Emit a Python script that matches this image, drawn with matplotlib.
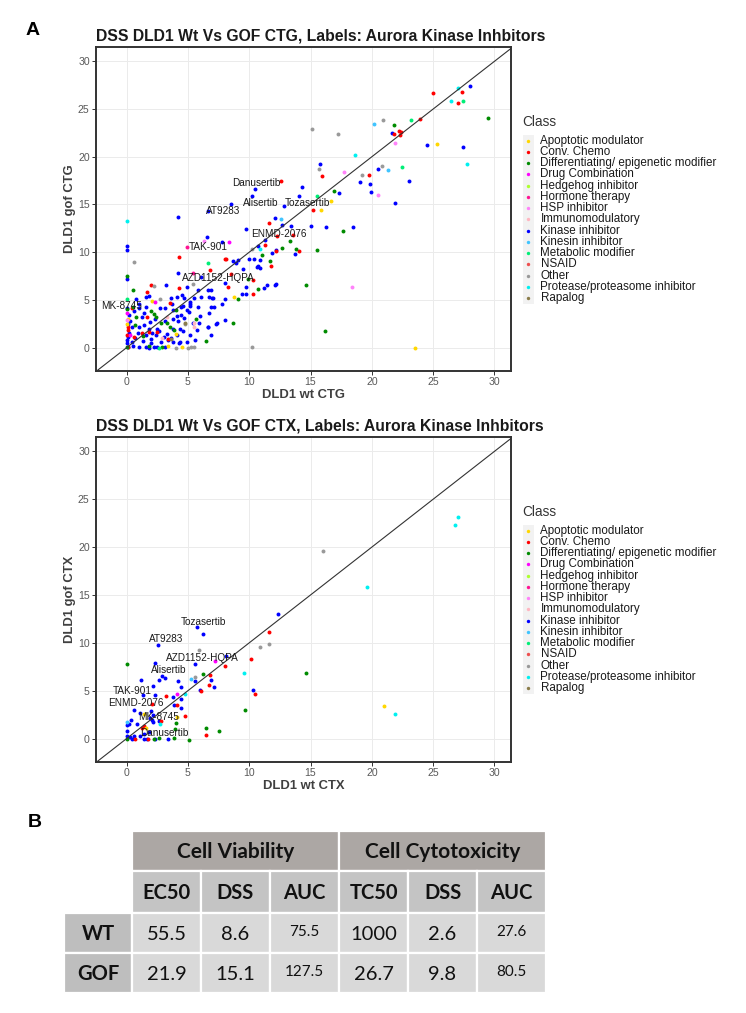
import matplotlib.pyplot as plt
from matplotlib.patches import Rectangle

plt.rcParams['font.family'] = ['Liberation Sans', 'DejaVu Sans']

# ---------------- classes ----------------
class_names = ['Apoptotic modulator', 'Conv. Chemo', 'Differentiating/ epigenetic modifier',
               'Drug Combination', 'Hedgehog inhibitor', 'Hormone therapy', 'HSP inhibitor',
               'Immunomodulatory', 'Kinase inhibitor', 'Kinesin inhibitor', 'Metabolic modifier',
               'NSAID', 'Other', 'Protease/proteasome inhibitor', 'Rapalog']
class_colors = ['#FFD700', '#FF0000', '#008B00', '#FF00FF', '#ADFF2F', '#FF1493', '#FF83FA',
                '#FFB6C1', '#0000FF', '#40C4FF', '#00EE76', '#EE5050', '#999999', '#00F0F0', '#8B7D4B']

# ---------------- CTG (wt, gof) ----------------
ctg_kinase = [(27.98, 27.4), (21.63, 22.5), (24.5, 21.2), (27.43, 21.05), (20.5, 18.7), (19.0, 17.4),
              (19.83, 17.1), (19.9, 16.3), (23.0, 17.5), (21.87, 15.2), (17.33, 16.2), (18.5, 12.6),
              (15.76, 19.2), (10.43, 16.66), (14.34, 16.8), (10.24, 15.9), (14.07, 15.9), (12.87, 14.8),
              (8.53, 15.1), (6.6, 14.35), (4.2, 13.7), (12.08, 13.6), (12.65, 12.9), (13.4, 12.7),
              (15.07, 12.7), (16.3, 12.6), (9.75, 12.4), (6.55, 11.6), (7.8, 11.1), (11.3, 11.25),
              (0, 10.6), (0, 10.25), (10.7, 10.6), (13.7, 9.78), (11.87, 9.95), (12.2, 10.2),
              (10.0, 9.3), (10.35, 9.33), (10.9, 9.2), (8.69, 9.05), (9.1, 9.2), (8.9, 8.9),
              (10.7, 8.55), (10.9, 8.35), (10.6, 8.45), (9.45, 8.25), (4.2, 7.8), (6.06, 7.4),
              (8.04, 6.8), (9.72, 6.4), (9.72, 5.6), (9.4, 5.65), (11.24, 6.2), (11.43, 6.55),
              (12.1, 6.6), (12.2, 6.7), (8.0, 5.1), (7.74, 4.6), (8.0, 2.9), (0, 7.2), (3.2, 6.6),
              (1.8, 5.4), (4.95, 6.3), (5.8, 6.0), (6.1, 5.3), (7.0, 5.2), (6.6, 6.0), (6.9, 6.0),
              (6.9, 4.3), (6.7, 3.6), (7.3, 2.5), (6.9, 1.3), (6.6, 2.2), (3.6, 5.2), (4.1, 5.3),
              (4.5, 5.5), (4.7, 5.2), (5.2, 4.8), (5.5, 5.2), (4.4, 4.3), (4.9, 3.9), (5.2, 4.4),
              (5.85, 4.3), (6.0, 3.3), (7.1, 4.3), (7.05, 5.2), (6.7, 5.3), (4.7, 3.1), (4.1, 3.35),
              (5.4, 2.55), (5.9, 2.55), (5.7, 1.85), (4.6, 1.7), (5.2, 1.3), (4.1, 1.3), (4.35, 0.6),
              (4.9, 0.6), (5.55, 0.8), (7.4, 2.55), (6.65, 2.2), (1.0, 4.6), (1.03, 4.2), (1.6, 4.3),
              (2.7, 4.1), (3.1, 4.15), (3.7, 4.6), (3.8, 3.9), (4.6, 4.4), (5.2, 4.6), (4.4, 3.4),
              (5.05, 3.7), (0.2, 3.4), (1.25, 3.25), (3.1, 2.8), (3.75, 3.0), (4.15, 2.8), (0.15, 2.5),
              (0.45, 2.15), (1.0, 2.2), (1.45, 2.4), (1.85, 2.0), (2.5, 2.0), (2.65, 1.7), (3.75, 1.9),
              (4.35, 2.0), (0.2, 1.5), (0.1, 1.1), (0.9, 1.5), (1.6, 1.3), (2.0, 0.9), (2.4, 1.3),
              (3.05, 1.15), (3.3, 1.4), (0, 0.8), (0, 0.45), (0.15, 0.1), (0.55, 0.15), (1.0, 0.1),
              (1.6, 0.05), (2.2, 0.05), (2.5, 0.1), (3.1, 0.1), (2.0, 0.45), (3.8, 0.6), (4.3, 0.45),
              (2.8, 0.6), (3.35, 0.8), (0.76, 5.05), (1.6, 5.3), (1.8, 0.0), (0.4, 0.6), (1.3, 0.7),
              (0.7, 1.0), (2.3, 3.0), (1.9, 2.7), (0.6, 3.8), (1.4, 3.6), (0.3, 2.8), (2.1, 1.5),
              (3.6, 1.0), (0, 4.15)]
ctg_chemo = [(27.35, 26.8), (25.02, 26.7), (27.0, 25.6), (23.96, 24.0), (21.77, 22.35), (22.2, 22.7),
             (22.36, 22.6), (22.3, 22.3), (19.8, 18.1), (15.95, 18.0), (12.55, 17.5), (15.2, 14.4),
             (11.6, 13.1), (12.28, 11.7), (13.6, 11.75), (11.3, 10.75), (12.16, 10.17), (14.07, 10.1),
             (8.0, 9.25), (8.1, 9.25), (11.8, 8.55), (8.53, 7.72), (10.27, 7.12), (8.3, 6.3),
             (10.3, 5.6), (4.3, 9.5), (6.8, 8.1), (2.0, 6.55), (1.7, 5.8), (4.3, 6.2), (1.65, 3.25),
             (0.1, 2.15), (1.25, 1.5), (0.1, 1.85), (0.57, 1.15), (0.1, 0.1), (0.4, 4.1), (3.5, 4.7),
             (1.8, 1.6), (2.45, 1.6), (3.4, 0.9), (0, 1.3)]
ctg_diff = [(29.5, 24.1), (21.8, 23.3), (16.92, 16.4), (17.65, 12.2), (13.3, 11.2), (12.7, 10.4),
            (13.8, 10.3), (15.5, 10.25), (11.0, 9.7), (11.7, 9.05), (9.88, 7.2), (10.7, 6.1),
            (14.6, 6.6), (9.08, 5.06), (8.7, 2.6), (16.2, 1.7), (6.5, 0.7), (0, 7.5), (0.5, 6.0),
            (0.55, 4.3), (2.0, 3.8), (4.0, 3.95), (0.8, 3.2), (2.25, 3.5), (2.4, 3.2), (3.3, 2.55),
            (5.65, 3.0), (0.7, 2.4), (2.8, 2.6), (3.9, 1.8), (0, 0.1), (1.8, 0.2), (2.9, 0.05),
            (0, 4.0), (1.3, 1.2), (3.5, 2.2)]
ctg_apopt = [(25.3, 21.3), (16.65, 15.4), (15.85, 14.4), (8.75, 5.3), (23.5, 0), (0.1, 3.0),
             (4.0, 1.4), (3.4, 0.2), (4.5, 0.05), (2.1, 4.9), (0, 2.5)]
ctg_combo = [(8.36, 11.1), (2.3, 4.8), (0.3, 1.3), (0, 3.6)]
ctg_hormone = [(4.9, 10.5), (5.4, 7.85)]
ctg_hsp = [(17.7, 18.4), (21.85, 21.4), (20.5, 16.0), (18.36, 6.3), (6.27, 11.2), (0, 2.9)]
ctg_immuno = [(3.3, 3.25), (5.5, 2.6), (5.5, 2.2), (2.9, 1.0)]
ctg_kinesin = [(20.2, 23.4), (21.3, 18.65), (12.6, 13.45)]
ctg_metab = [(27.4, 25.8), (23.22, 23.85), (22.43, 18.9), (15.5, 15.9), (6.6, 8.9), (0, 5.1), (2.6, 0)]
ctg_other = [(20.94, 23.85), (17.25, 22.4), (15.13, 22.9), (20.8, 19.0), (19.2, 18.1), (15.73, 18.7),
             (10.24, 10.3), (0.57, 9.0), (2.2, 6.45), (2.7, 5.05), (5.4, 6.7), (4.8, 2.5), (4.0, 0),
             (5.0, 0), (5.25, 0.05), (5.5, 0.05), (10.24, 0.1)]
ctg_protease = [(27.06, 27.2), (26.46, 25.8), (27.75, 19.25), (18.63, 20.2), (0, 13.3), (10.9, 10.3)]
ctg_rapalog = [(4.75, 2.55), (3.6, 0.9)]

# ---------------- CTX (wt, gof) ----------------
ctx_kinase = [(12.37, 12.96), (8.14, 8.64), (10.3, 5.12), (5.7, 11.67), (6.26, 10.94), (2.54, 9.76),
              (5.55, 7.8), (2.35, 7.9), (2.87, 6.55), (3.1, 6.3), (2.65, 6.13), (5.6, 6.03), (1.15, 6.13),
              (4.22, 6.03), (6.86, 6.1), (2.19, 5.54), (4.44, 5.4), (7.13, 5.4), (1.35, 4.53), (2.35, 4.6),
              (5.99, 5.05), (3.76, 4.32), (4.44, 4.1), (3.87, 3.55), (4.44, 3.14), (0.56, 2.96), (2.0, 2.9),
              (1.1, 2.7), (2.13, 2.44), (0.37, 1.9), (0.04, 1.4), (0.83, 1.57), (2.05, 1.9), (2.19, 1.74),
              (0, 0.77), (0, 0.28), (0.26, 0.17), (0.42, 0), (1.1, 0.25), (1.43, 0), (1.67, 0), (1.83, 0.7),
              (2.33, 0), (3.36, 0), (1.43, 0.52), (0.6, 0.3), (1.9, 2.1), (2.6, 1.8), (0.2, 1.5)]
ctx_chemo = [(11.65, 11.15), (10.12, 8.33), (8.05, 7.56), (6.8, 6.69), (6.72, 5.57), (10.45, 4.63),
             (3.2, 4.43), (2.05, 3.66), (4.1, 3.5), (4.72, 2.4), (2.84, 1.85), (1.43, 1.3), (1.24, 1.1),
             (6.45, 0.42), (0.7, 0), (1.73, 0), (6.05, 5.0)]
ctx_diff = [(0, 7.77), (6.24, 6.72), (14.6, 6.83), (9.63, 2.93), (4.0, 1.67), (6.45, 1.15), (7.5, 0.8),
            (3.95, 1.0), (0, 0), (2.24, 0), (2.6, 0.1), (3.87, 0.1), (5.1, -0.1)]
ctx_apopt = [(20.96, 3.38), (1.43, 2.54), (1.54, 1.05), (4.1, 2.2)]
ctx_combo = [(7.2, 8.1), (4.14, 4.63)]
ctx_kinesin = [(5.26, 6.27), (0, 1.74)]
ctx_other = [(16.0, 19.6), (10.9, 9.6), (11.65, 9.86), (5.9, 9.3), (5.6, 6.4)]
ctx_protease = [(19.57, 15.85), (27.0, 23.16), (26.8, 22.3), (21.86, 2.6), (9.58, 6.83), (4.8, 4.63),
                (2.74, 1.5)]

# label text positions (wt, gof)
aurora_names = ['Danusertib', 'Alisertib', 'Tozasertib', 'AT9283', 'ENMD-2076', 'TAK-901',
                'AZD1152-HQPA', 'MK-8745']
ctg_label_pos = [(10.6, 17.2), (10.9, 15.2), (14.75, 15.2), (7.9, 14.3), (12.4, 11.9), (6.65, 10.5),
                 (7.47, 7.26), (-0.4, 4.4)]
ctx_label_pos = [(3.05, 0.56), (3.4, 7.18), (6.3, 12.16), (3.2, 10.4), (0.72, 3.73), (0.47, 5.0),
                 (6.18, 8.4), (2.6, 2.2)]

# ---------------- table ----------------
tbl_groups = ['Cell Viability', 'Cell Cytotoxicity']
tbl_cols = ['EC50', 'DSS', 'AUC', 'TC50', 'DSS', 'AUC']
tbl_rows = ['WT', 'GOF']
tbl_vals = [['55.5', '8.6', '75.5', '1000', '2.6', '27.6'],
            ['21.9', '15.1', '127.5', '26.7', '9.8', '80.5']]

ctg_groups = {'Kinase inhibitor': ctg_kinase, 'Conv. Chemo': ctg_chemo,
              'Differentiating/ epigenetic modifier': ctg_diff, 'Apoptotic modulator': ctg_apopt,
              'Drug Combination': ctg_combo, 'Hormone therapy': ctg_hormone, 'HSP inhibitor': ctg_hsp,
              'Immunomodulatory': ctg_immuno, 'Kinesin inhibitor': ctg_kinesin,
              'Metabolic modifier': ctg_metab, 'Other': ctg_other,
              'Protease/proteasome inhibitor': ctg_protease, 'Rapalog': ctg_rapalog}
ctx_groups = {'Kinase inhibitor': ctx_kinase, 'Conv. Chemo': ctx_chemo,
              'Differentiating/ epigenetic modifier': ctx_diff, 'Apoptotic modulator': ctx_apopt,
              'Drug Combination': ctx_combo, 'Kinesin inhibitor': ctx_kinesin, 'Other': ctx_other,
              'Protease/proteasome inhibitor': ctx_protease}
color_of = dict(zip(class_names, class_colors))


def draw_panel(ax, groups, title, xlabel, ylabel, label_pos):
    ax.set_xlim(-2.5, 31.35)
    ax.set_ylim(-2.45, 31.5)
    ticks = [0, 5, 10, 15, 20, 25, 30]
    ax.set_xticks(ticks)
    ax.set_yticks(ticks)
    ax.grid(True, color='#EBEBEB', lw=0.7)
    ax.set_axisbelow(True)
    for sp in ax.spines.values():
        sp.set_linewidth(1.4)
        sp.set_color('#333333')
    ax.tick_params(length=3, width=0.7, color='#333333', labelsize=7.6,
                   labelcolor='#595959', pad=1.5)
    for name, pts in groups.items():
        xs = [p[0] for p in pts]
        ys = [p[1] for p in pts]
        ax.scatter(xs, ys, s=8, color=color_of[name], lw=0, zorder=2)
    ax.axline((0, 0), slope=1, color='#333333', lw=0.8, zorder=3)
    for name, (tx, ty) in zip(aurora_names, label_pos):
        ax.text(tx, ty, name, ha='center', va='center', fontsize=7.2, color='#1A1A1A', zorder=4)
    ax.set_title(title, loc='left', fontsize=11.3, fontweight='bold', color='#1A1A1A', pad=5)
    ax.set_xlabel(xlabel, fontsize=9.4, fontweight='bold', color='#404040', labelpad=1.5)
    ax.set_ylabel(ylabel, fontsize=9.4, fontweight='bold', color='#404040', labelpad=1.5)


fig = plt.figure(figsize=(7.46, 10.13), dpi=100)
ax1 = fig.add_axes([96 / 746, 1 - 371 / 1013, 415 / 746, 324 / 1013])
ax2 = fig.add_axes([96 / 746, 1 - 762 / 1013, 415 / 746, 325 / 1013])
draw_panel(ax1, ctg_groups, 'DSS DLD1 Wt Vs GOF CTG, Labels: Aurora Kinase Inhbitors',
           'DLD1 wt CTG', 'DLD1 gof CTG', ctg_label_pos)
draw_panel(ax2, ctx_groups, 'DSS DLD1 Wt Vs GOF CTX, Labels: Aurora Kinase Inhbitors',
           'DLD1 wt CTX', 'DLD1 gof CTX', ctx_label_pos)

# overlay in pixel coordinates for legends, panel letters and table
ov = fig.add_axes([0, 0, 1, 1], zorder=10)
ov.set_xlim(0, 746)
ov.set_ylim(1013, 0)
ov.axis('off')
ov.patch.set_alpha(0)


def draw_legend(y_title, y_first):
    ov.text(522.5, y_title, 'Class', fontsize=9.8, color='#333333', va='center', ha='left')
    for i, (name, col) in enumerate(zip(class_names, class_colors)):
        yc = y_first + i * 11.25
        ov.add_patch(Rectangle((522.5, yc - 5.6), 11, 11.2, facecolor='#F2F2F2', edgecolor='none'))
        ov.scatter([528], [yc], s=6, color=col, lw=0)
        ov.text(540.5, yc, name, fontsize=8.4, color='#1A1A1A', va='center', ha='left')


draw_legend(122, 140.5)
draw_legend(512, 530.5)

ov.text(33, 30, 'A', fontsize=14, fontweight='bold', ha='center', va='center', color='black')
ov.text(35, 822, 'B', fontsize=14, fontweight='bold', ha='center', va='center', color='black')

# table B
tfont = ['Lato', 'DejaVu Sans']
col_edges = [64, 132, 201, 270, 339, 408, 477, 546]
row_edges = [831, 871, 913, 953, 993]
# header 1
for g, name in enumerate(tbl_groups):
    x0 = col_edges[1 + 3 * g]
    x1 = col_edges[4 + 3 * g]
    ov.add_patch(Rectangle((x0, row_edges[0]), x1 - x0, row_edges[1] - row_edges[0],
                           facecolor='#ACA7A4', edgecolor='white', lw=1.6))
    ov.text((x0 + x1) / 2, (row_edges[0] + row_edges[1]) / 2 + 1, name, family=tfont,
            fontsize=15, fontweight='bold', ha='center', va='center', color='#111111')
# header 2
for c, name in enumerate(tbl_cols):
    x0, x1 = col_edges[c + 1], col_edges[c + 2]
    ov.add_patch(Rectangle((x0, row_edges[1]), x1 - x0, row_edges[2] - row_edges[1],
                           facecolor='#C4C4C4', edgecolor='white', lw=1.6))
    ov.text((x0 + x1) / 2, (row_edges[1] + row_edges[2]) / 2 + 1, name, family=tfont,
            fontsize=14.5, fontweight='bold', ha='center', va='center', color='#111111')
# body
for r, rname in enumerate(tbl_rows):
    y0, y1 = row_edges[r + 2], row_edges[r + 3]
    ov.add_patch(Rectangle((col_edges[0], y0), col_edges[1] - col_edges[0], y1 - y0,
                           facecolor='#BEBEBE', edgecolor='white', lw=1.6))
    ov.text((col_edges[0] + col_edges[1]) / 2, (y0 + y1) / 2 + 1, rname, family=tfont,
            fontsize=14.5, fontweight='bold', ha='center', va='center', color='#111111')
    for c, val in enumerate(tbl_vals[r]):
        x0, x1 = col_edges[c + 1], col_edges[c + 2]
        ov.add_patch(Rectangle((x0, y0), x1 - x0, y1 - y0,
                               facecolor='#D9D9D9', edgecolor='white', lw=1.6))
        small = c in (2, 5)
        ov.text((x0 + x1) / 2, (y0 + y1) / 2 + (-1.5 if small else 1), val, family=tfont,
                fontsize=11 if small else 14.5, ha='center', va='center', color='#111111')

fig.savefig('out.png', dpi=100)
